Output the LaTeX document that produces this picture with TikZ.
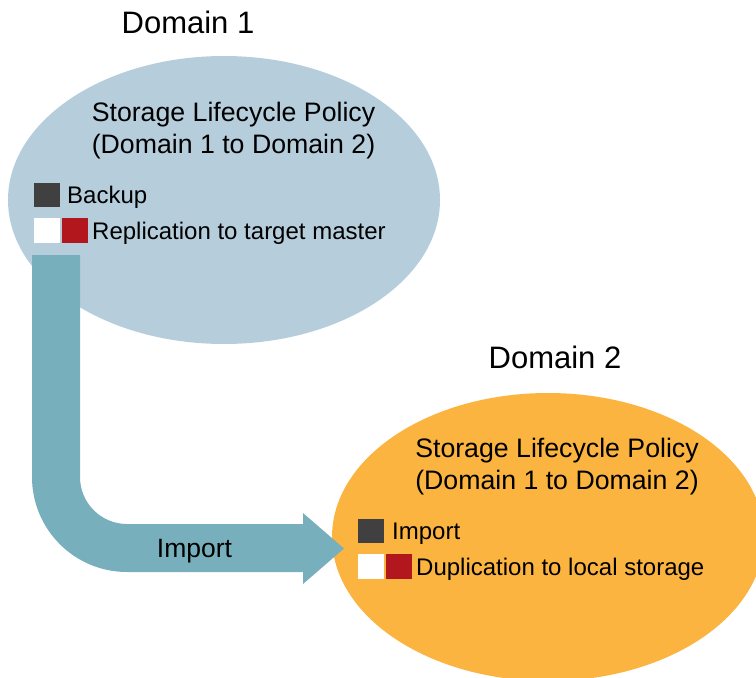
\documentclass[tikz,border=0pt]{standalone}
\usepackage{fontspec}
\setmainfont{Liberation Sans}
\usetikzlibrary{shapes.geometric}
\definecolor{dombluefill}{HTML}{B6CEDC}
\definecolor{domorangefill}{HTML}{FBB440}
\definecolor{arrowteal}{HTML}{77B0BC}
\definecolor{darksq}{HTML}{404040}
\definecolor{redsq}{HTML}{B2171E}
\begin{document}
\begin{tikzpicture}[x=1pt,y=1pt,
  titletext/.style={font=\fontsize{31}{37}\selectfont, anchor=base, inner sep=0pt},
  policytext/.style={font=\fontsize{26.7}{32}\selectfont, anchor=base, inner sep=0pt, align=center},
  itemtext/.style={font=\fontsize{24}{28}\selectfont, anchor=base west, inner sep=0pt},
  sqdark/.style={fill=darksq, draw=none, minimum width=26pt, minimum height=24pt, inner sep=0pt, anchor=north west},
  sqwhite/.style={fill=white, draw=none, minimum width=26pt, minimum height=25pt, inner sep=0pt, anchor=north west},
  sqred/.style={fill=redsq, draw=none, minimum width=26pt, minimum height=25pt, inner sep=0pt, anchor=north west}]
\useasboundingbox (0,0) rectangle (756,-678);
\clip (0,0) rectangle (756,-678);
\fill[white] (0,0) rectangle (756,-678);

% Domain 1 ellipse
\node[ellipse, draw=none, fill=dombluefill, minimum width=432pt, minimum height=288pt, inner sep=0pt] (d1) at (224,-200) {};
\node[titletext] (t1) at (188,-33) {Domain 1};
\node[policytext] (p1) at (233.5,-153) {Storage Lifecycle Policy\\(Domain 1 to Domain 2)};
\node[sqdark] (b1) at (34,-183) {};
\node[itemtext] (b1t) at (67,-203) {Backup};
\node[sqwhite] (r1w) at (34,-218) {};
\node[sqred] (r1r) at (62,-218) {};
\node[itemtext] (r1t) at (92,-239) {Replication to target master};

% Domain 2 ellipse
\node[ellipse, draw=none, fill=domorangefill, minimum width=432pt, minimum height=288pt, inner sep=0pt] (d2) at (548,-537) {};
\node[titletext] (t2) at (555,-368) {Domain 2};
\node[policytext] (p2) at (557,-489) {Storage Lifecycle Policy\\(Domain 1 to Domain 2)};
\node[sqdark] (i2) at (358,-519) {};
\node[itemtext] (i2t) at (392,-539) {Import};
\node[sqwhite] (u2w) at (358,-554) {};
\node[sqred] (u2r) at (386,-554) {};
\node[itemtext] (u2t) at (416,-575) {Duplication to local storage};

% Block arrow
\coordinate (astart) at (32,-255);
\fill[arrowteal] (astart) -- (80,-255) -- (80,-477)
  arc[start angle=180, end angle=270, radius=47] -- (303,-524) -- (303,-513)
  -- (344,-548.5) -- (303,-584) -- (303,-572) -- (127,-572)
  arc[start angle=270, end angle=180, radius=95] -- cycle;
\node[font=\fontsize{26.5}{32}\selectfont, anchor=base, inner sep=0pt] (al) at (194.5,-557) {Import};
\end{tikzpicture}
\end{document}
